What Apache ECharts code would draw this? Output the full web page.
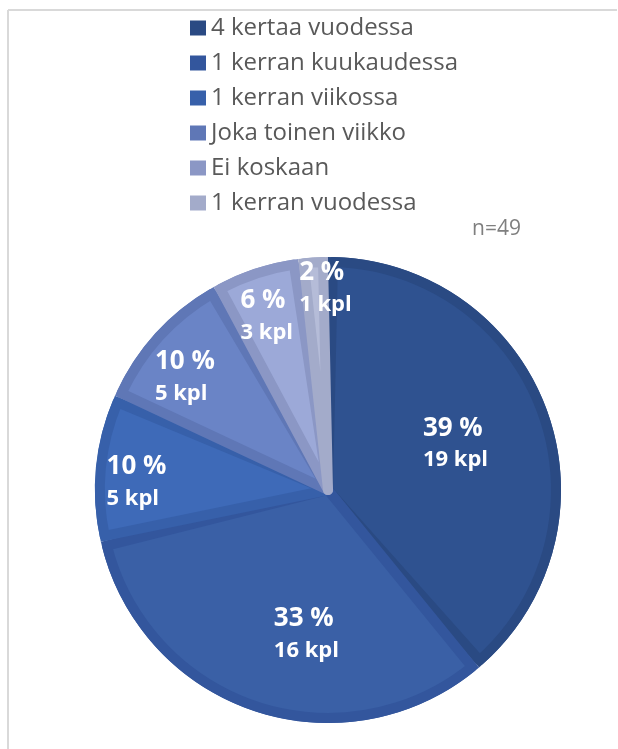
<!DOCTYPE html>
<html>
<head>
<meta charset="utf-8">
<script src="https://cdn.jsdelivr.net/npm/echarts@6/dist/echarts.min.js"></script>
<style>
  html, body { margin: 0; padding: 0; background: #fff; }
  #chart { width: 618px; height: 749px; }
</style>
</head>
<body>
<div id="chart"></div>
<script>
// vastaukset (kpl)
const categories = ['4 kertaa vuodessa', '1 kerran kuukaudessa', '1 kerran viikossa', 'Joka toinen viikko', 'Ei koskaan', '1 kerran vuodessa'];
const counts = [19, 16, 5, 5, 3, 1];
const sampleLabel = 'n=49';

const fillColors = ['#2f5290', '#3a60a6', '#3e6ab8', '#6a84c6', '#9ca9d8', '#b5bcd8'];
const edgeColors = ['#2a4a83', '#33569d', '#3760aa', '#5f77b6', '#8b97c5', '#a3abca'];

// label placement: fraction of outer radius, small angle shift (deg)
const labelRadius = [0.57, 0.61, 0.81, 0.77, 0.78, 0.855];
const labelShift = [0, -10, -3, -4, -1, 3];

const CX = 328, CY = 490, R_OUT = 233, EDGE = 10;
const R_IN = R_OUT - EDGE / 2;
const total = counts.reduce((a, b) => a + b, 0);

// keskikulmat (myötäpäivään ylhäältä)
const midAngles = [];
let acc = 0;
counts.forEach(v => {
  midAngles.push((acc + v / 2) / total * 360);
  acc += v;
});

const chart = echarts.init(document.getElementById('chart'));
chart.setOption({
  animation: false,
  legend: {
    orient: 'vertical',
    left: 190, top: 16,
    padding: 0,
    itemWidth: 16, itemHeight: 15,
    itemGap: 11,
    icon: 'rect',
    itemStyle: { borderWidth: 0 },
    textStyle: { color: '#595959', fontSize: 24, lineHeight: 24, fontFamily: 'Open Sans' },
    data: categories
  },
  graphic: [
    { type: 'line', shape: { x1: 8, y1: 10, x2: 617, y2: 10 }, style: { stroke: '#d9d9d9', lineWidth: 2 } },
    { type: 'line', shape: { x1: 8, y1: 10, x2: 8, y2: 749 }, style: { stroke: '#d9d9d9', lineWidth: 2 } },
    {
      type: 'text', left: 472, top: 219,
      style: { text: sampleLabel, fill: '#7f7f7f', fontSize: 21, fontFamily: 'Open Sans' }
    }
  ],
  series: [
    // pohja: reunaväri koko sektorille
    {
      type: 'pie',
      name: 'edge',
      center: [CX, CY],
      radius: [0, R_OUT],
      startAngle: 90,
      silent: true,
      legendHoverLink: false,
      data: counts.map((v, i) => ({
        name: categories[i],
        value: v,
        itemStyle: { color: edgeColors[i] }
      })),
      itemStyle: { borderWidth: 0 },
      label: { show: false },
      labelLine: { show: false },
      emphasis: { disabled: true }
    },
    // täyttö
    {
      type: 'pie',
      name: 'fill',
      center: [CX, CY],
      radius: [0, R_IN],
      startAngle: 90,
      padAngle: 2.5,
      data: counts.map((v, i) => ({
        name: categories[i],
        value: v,
        itemStyle: { color: fillColors[i], borderColor: edgeColors[i] }
      })),
      itemStyle: { borderWidth: EDGE, borderJoin: 'round' },
      label: {
        show: true,
        position: 'inside',
        formatter: p => `{p|${Math.round(p.percent)} %}\n{k|${p.value} kpl}`,
        rich: {
          p: { color: '#fff', fontSize: 26, fontWeight: 'bold', lineHeight: 34, align: 'left', fontFamily: 'Open Sans' },
          k: { color: '#fff', fontSize: 22, fontWeight: 'bold', lineHeight: 30, align: 'left', fontFamily: 'Open Sans' }
        }
      },
      labelLine: { show: false },
      labelLayout: params => {
        const i = params.dataIndex;
        const a = (midAngles[i] + labelShift[i]) * Math.PI / 180;
        const d = labelRadius[i] * R_OUT;
        const m = midAngles[i] * Math.PI / 180;
        const d0 = R_IN / 2;
        return {
          dx: d * Math.sin(a) - d0 * Math.sin(m),
          dy: -d * Math.cos(a) + d0 * Math.cos(m)
        };
      },
      emphasis: { disabled: true }
    }
  ]
});
</script>
</body>
</html>
